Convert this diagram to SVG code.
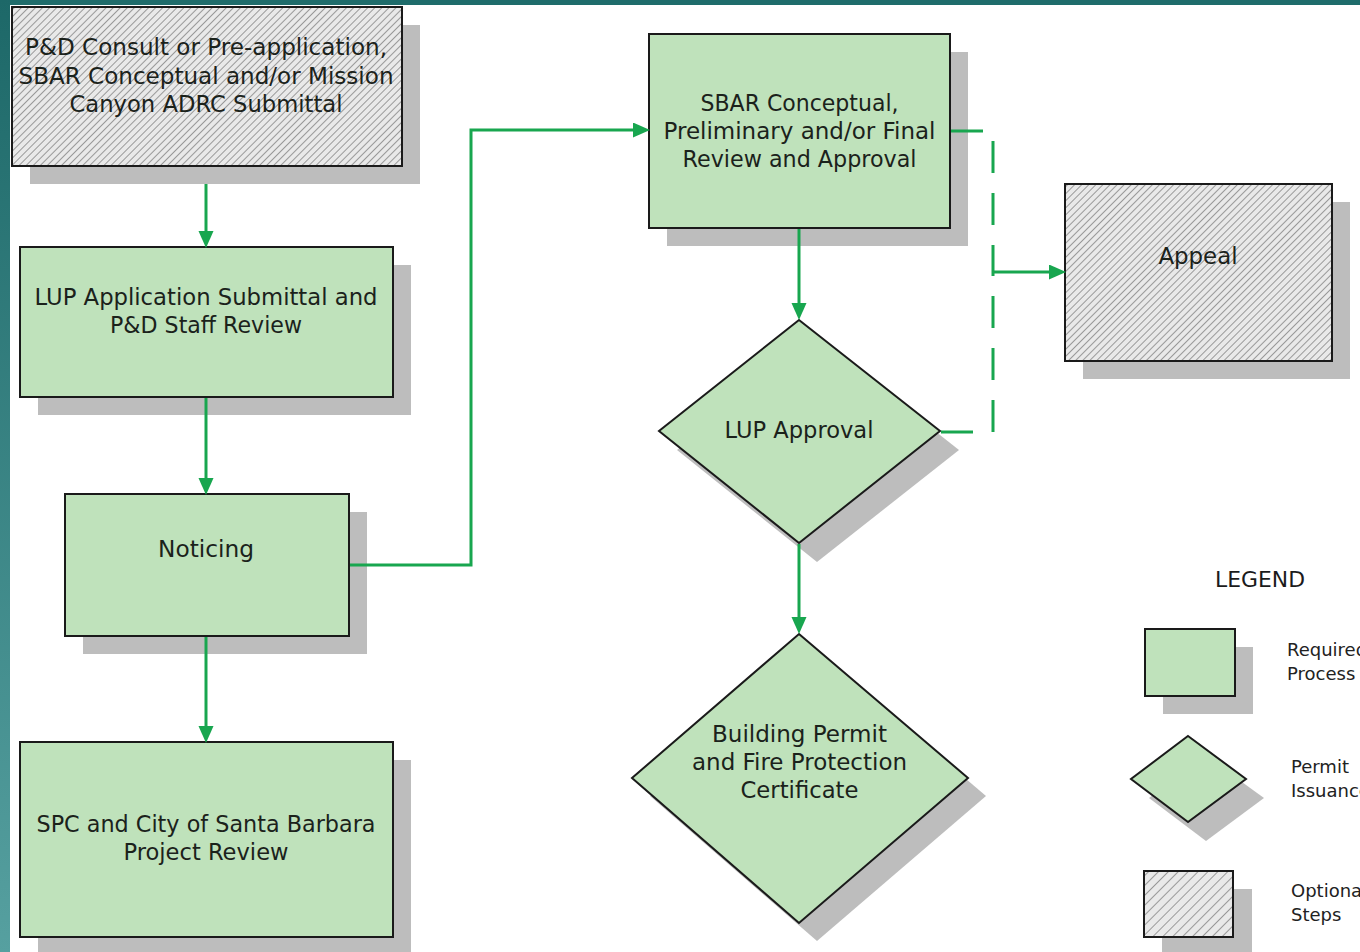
<svg xmlns="http://www.w3.org/2000/svg" width="1360" height="952" viewBox="0 0 1360 952">
<defs>
<linearGradient id="strip" x1="0" y1="0" x2="0" y2="1">
<stop offset="0" stop-color="#1d6868"/>
<stop offset="1" stop-color="#56a0a0"/>
</linearGradient>
<pattern id="hatch" patternUnits="userSpaceOnUse" width="5" height="5" patternTransform="rotate(45)">
<rect width="5" height="5" fill="#e9e9e9"/>
<line x1="0" y1="0" x2="0" y2="5" stroke="#4a4a4a" stroke-width="1"/>
</pattern>
<pattern id="hatch2" patternUnits="userSpaceOnUse" width="7" height="7" patternTransform="rotate(45)">
<rect width="7" height="7" fill="#e9e9e9"/>
<line x1="0" y1="0" x2="0" y2="7" stroke="#4a4a4a" stroke-width="1"/>
</pattern>
<marker id="arr" markerUnits="userSpaceOnUse" markerWidth="18" markerHeight="16" refX="10" refY="7.5" orient="auto">
<path d="M0,0 L17,7.5 L0,15 z" fill="#18a64f"/>
</marker>
<style>
.shadow{fill:#bdbdbd;stroke:none}
.req{fill:#bfe2bb;stroke:#1a1a1a;stroke-width:2}
.opt{fill:url(#hatch);stroke:#1a1a1a;stroke-width:2}
.opt2{fill:url(#hatch2);stroke:#1a1a1a;stroke-width:2}
.t{font-family:"DejaVu Sans","Noto Sans",sans-serif;font-size:23px;fill:#1b221b;text-anchor:middle}
.lg{font-family:"DejaVu Sans","Noto Sans",sans-serif;font-size:18px;fill:#222}
.conn{fill:none;stroke:#18a64f;stroke-width:3}
.dash{fill:none;stroke:#18a64f;stroke-width:3;stroke-dasharray:32 20}
</style>
</defs>
<rect width="1360" height="952" fill="#ffffff"/>
<rect x="0" y="0" width="1360" height="5" fill="#1f6c6b"/>
<rect x="0" y="0" width="10" height="952" fill="url(#strip)"/>

<g id="node-consult">
<rect class="shadow" x="30" y="25" width="390" height="159"/>
<rect class="opt" x="12" y="7" width="390" height="159"/>
<text class="t" x="206" y="55" textLength="362" lengthAdjust="spacingAndGlyphs">P&amp;D Consult or Pre-application,</text>
<text class="t" x="206" y="83.5" textLength="375" lengthAdjust="spacingAndGlyphs">SBAR Conceptual and/or Mission</text>
<text class="t" x="206" y="112" textLength="273" lengthAdjust="spacingAndGlyphs">Canyon ADRC Submittal</text>
</g>

<g id="node-lup-app">
<rect class="shadow" x="38" y="265" width="373" height="150"/>
<rect class="req" x="20" y="247" width="373" height="150"/>
<text class="t" x="206" y="305" textLength="343" lengthAdjust="spacingAndGlyphs">LUP Application Submittal and</text>
<text class="t" x="206" y="333" textLength="192" lengthAdjust="spacingAndGlyphs">P&amp;D Staff Review</text>
</g>

<g id="node-noticing">
<rect class="shadow" x="83" y="512" width="284" height="142"/>
<rect class="req" x="65" y="494" width="284" height="142"/>
<text class="t" x="206" y="557" textLength="96" lengthAdjust="spacingAndGlyphs">Noticing</text>
</g>

<g id="node-spc">
<rect class="shadow" x="38" y="760" width="373" height="195"/>
<rect class="req" x="20" y="742" width="373" height="195"/>
<text class="t" x="206" y="832" textLength="339" lengthAdjust="spacingAndGlyphs">SPC and City of Santa Barbara</text>
<text class="t" x="206" y="860" textLength="165" lengthAdjust="spacingAndGlyphs">Project Review</text>
</g>

<g id="node-sbar">
<rect class="shadow" x="667" y="52" width="301" height="194"/>
<rect class="req" x="649" y="34" width="301" height="194"/>
<text class="t" x="799.5" y="111" textLength="198" lengthAdjust="spacingAndGlyphs">SBAR Conceptual,</text>
<text class="t" x="799.5" y="139" textLength="272" lengthAdjust="spacingAndGlyphs">Preliminary and/or Final</text>
<text class="t" x="799.5" y="167" textLength="234" lengthAdjust="spacingAndGlyphs">Review and Approval</text>
</g>

<g id="node-lup-approval">
<polygon class="shadow" points="817,338 959,450 817,562 677,450"/>
<polygon class="req" points="799,320 940,431 799,543 659,431"/>
<text class="t" x="799" y="438" textLength="149" lengthAdjust="spacingAndGlyphs">LUP Approval</text>
</g>

<g id="node-building">
<polygon class="shadow" points="817,652 986,796 817,941 650,796"/>
<polygon class="req" points="799,634 968,778 799,923 632,778"/>
<text class="t" x="799.5" y="742" textLength="175" lengthAdjust="spacingAndGlyphs">Building Permit</text>
<text class="t" x="799.5" y="770" textLength="215" lengthAdjust="spacingAndGlyphs">and Fire Protection</text>
<text class="t" x="799.5" y="798" textLength="118" lengthAdjust="spacingAndGlyphs">Certificate</text>
</g>

<g id="node-appeal">
<rect class="shadow" x="1083" y="202" width="267" height="177"/>
<rect class="opt" x="1065" y="184" width="267" height="177"/>
<text class="t" x="1198" y="264" textLength="79" lengthAdjust="spacingAndGlyphs">Appeal</text>
</g>

<g id="legend">
<text x="1260" y="587" font-family="DejaVu Sans, Noto Sans, sans-serif" font-size="22" fill="#1b1b1b" text-anchor="middle" textLength="90" lengthAdjust="spacingAndGlyphs">LEGEND</text>
<rect class="shadow" x="1163" y="647" width="90" height="67"/>
<rect class="req" x="1145" y="629" width="90" height="67"/>
<text class="lg" x="1287" y="656">Required</text>
<text class="lg" x="1287" y="680">Process</text>
<polygon class="shadow" points="1206,756 1264,798 1206,841 1149,798"/>
<polygon class="req" points="1188,736 1246,779 1188,822 1131,779"/>
<text class="lg" x="1291" y="773">Permit</text>
<text class="lg" x="1291" y="797">Issuance</text>
<rect class="shadow" x="1162" y="889" width="90" height="67"/>
<rect class="opt2" x="1144" y="871" width="89" height="66"/>
<text class="lg" x="1291" y="897">Optional</text>
<text class="lg" x="1291" y="921">Steps</text>
</g>

<g id="connectors">
<path class="conn" d="M206,184 V241" marker-end="url(#arr)"/>
<path class="conn" d="M206,398 V488" marker-end="url(#arr)"/>
<path class="conn" d="M206,637 V736" marker-end="url(#arr)"/>
<path class="conn" d="M350,565 H471 V130 H643" marker-end="url(#arr)"/>
<path class="conn" d="M799,229 V313" marker-end="url(#arr)"/>
<path class="conn" d="M799,544 V627" marker-end="url(#arr)"/>
<path class="dash" d="M951,131 H993 V272"/>
<path class="dash" d="M941,432 H993 V272"/>
<path class="conn" d="M993,272 H1059" marker-end="url(#arr)"/>
</g>
</svg>
